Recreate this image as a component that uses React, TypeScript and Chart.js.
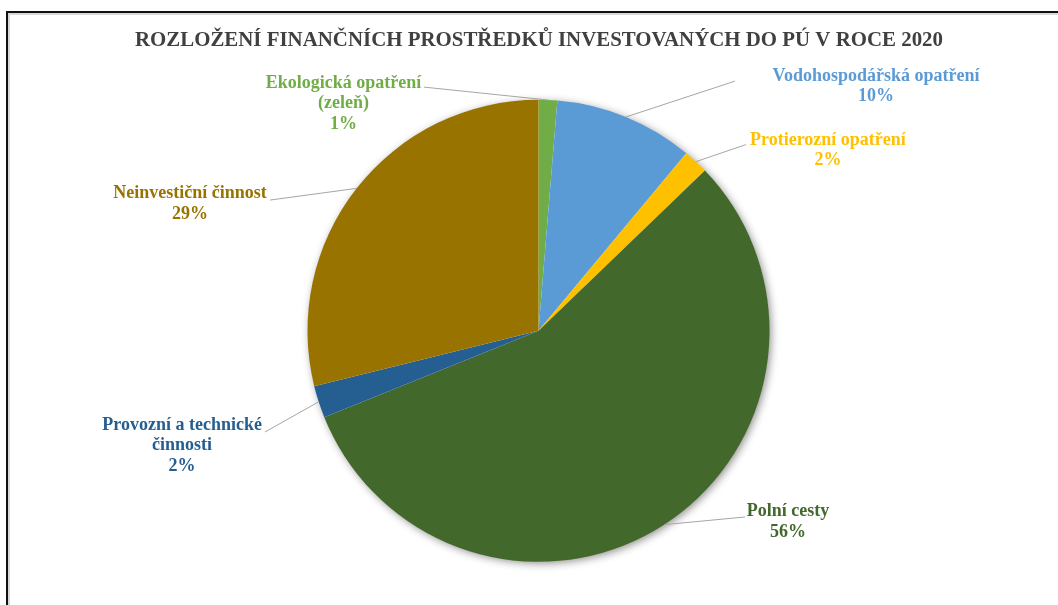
import React, { useEffect, useRef } from "react";
import { Chart, registerables } from "chart.js";

Chart.register(...registerables);

const titleText = "ROZLOŽENÍ FINANČNÍCH PROSTŘEDKŮ INVESTOVANÝCH DO PÚ V ROCE 2020";

const categories = [
  "Ekologická opatření (zeleň)",
  "Vodohospodářská opatření",
  "Protierozní opatření",
  "Polní cesty",
  "Provozní a technické činnosti",
  "Neinvestiční činnost",
];

const labelLines = [
  ["Ekologická opatření", "(zeleň)"],
  ["Vodohospodářská opatření"],
  ["Protierozní opatření"],
  ["Polní cesty"],
  ["Provozní a technické", "činnosti"],
  ["Neinvestiční činnost"],
];

const values = [1.3, 9.75, 1.75, 56.1, 2.25, 28.85];

const colors = ["#70AD47", "#5B9BD5", "#FFC000", "#43682B", "#255E91", "#997300"];

// label placement relative to pie centre, in units of the pie radius
const labelLayout = [
  { cx: -0.844, cy: -0.984, lx: -0.496, ly: -1.055 },
  { cx: 1.461, cy: -1.058, lx: 0.851, ly: -1.081 },
  { cx: 1.253, cy: -0.781, lx: 0.898, ly: -0.806 },
  { cx: 1.08, cy: 0.827, lx: 0.894, ly: 0.806 },
  { cx: -1.543, cy: 0.498, lx: -1.184, ly: 0.438 },
  { cx: -1.509, cy: -0.549, lx: -1.162, ly: -0.566 },
];

const decorPlugin = {
  id: "decor",
  beforeDraw(chart: any) {
    const ctx = chart.ctx;
    ctx.save();
    ctx.fillStyle = "#ffffff";
    ctx.fillRect(0, 0, chart.width, chart.height);
    // frame
    ctx.strokeStyle = "#d9d9d9";
    ctx.lineWidth = 2;
    ctx.beginPath();
    ctx.moveTo(9, chart.height + 5);
    ctx.lineTo(9, 14);
    ctx.lineTo(chart.width + 5, 14);
    ctx.stroke();
    ctx.strokeStyle = "#111111";
    ctx.lineWidth = 2;
    ctx.beginPath();
    ctx.moveTo(7, chart.height + 5);
    ctx.lineTo(7, 12);
    ctx.lineTo(chart.width + 5, 12);
    ctx.stroke();
    // title
    ctx.font = "bold 21px 'Liberation Serif', 'Times New Roman', serif";
    const w = ctx.measureText(titleText).width;
    const target = 808;
    const sx = target / w;
    ctx.translate(539, 45.5);
    ctx.scale(sx, 1);
    ctx.fillStyle = "#404040";
    ctx.textAlign = "center";
    ctx.textBaseline = "alphabetic";
    ctx.fillText(titleText, 0, 0);
    ctx.restore();
  },
  beforeDatasetsDraw(chart: any) {
    const ctx = chart.ctx;
    const arc = chart.getDatasetMeta(0).data[0];
    if (!arc) return;
    const { x, y, outerRadius } = arc.getProps(["x", "y", "outerRadius"], true);
    ctx.save();
    ctx.shadowColor = "rgba(0,0,0,0.45)";
    ctx.shadowBlur = 8;
    ctx.shadowOffsetX = 2;
    ctx.shadowOffsetY = 2;
    ctx.beginPath();
    ctx.arc(x, y, outerRadius - 0.5, 0, Math.PI * 2);
    ctx.fillStyle = "#ffffff";
    ctx.fill();
    ctx.restore();
  },
  afterDatasetsDraw(chart: any) {
    const ctx = chart.ctx;
    const meta = chart.getDatasetMeta(0);
    const data = chart.data.datasets[0].data as number[];
    const total = data.reduce((a: number, b: number) => a + b, 0);
    ctx.save();
    meta.data.forEach((el: any, i: number) => {
      const { x, y, startAngle, endAngle, outerRadius } = el.getProps(
        ["x", "y", "startAngle", "endAngle", "outerRadius"],
        true
      );
      const r = outerRadius;
      const mid = (startAngle + endAngle) / 2;
      const ex = x + r * Math.cos(mid);
      const ey = y + r * Math.sin(mid);
      const lay = labelLayout[i];
      // leader line
      ctx.strokeStyle = "#a6a6a6";
      ctx.lineWidth = 1;
      ctx.beginPath();
      ctx.moveTo(x + lay.lx * r, y + lay.ly * r);
      ctx.lineTo(ex, ey);
      ctx.stroke();
      // label text
      const lines = [...labelLines[i], Math.round((data[i] / total) * 100) + "%"];
      const lh = 20.5;
      const cx = x + lay.cx * r;
      const cy = y + lay.cy * r;
      ctx.font = "bold 18px 'Liberation Serif', 'Times New Roman', serif";
      ctx.fillStyle = colors[i];
      ctx.textAlign = "center";
      ctx.textBaseline = "middle";
      lines.forEach((t, k) => {
        ctx.fillText(t, cx, cy + (k - (lines.length - 1) / 2) * lh);
      });
    });
    ctx.restore();
  },
};

export default function App() {
  const ref = useRef<HTMLCanvasElement | null>(null);
  useEffect(() => {
    if (!ref.current) return;
    const chart = new Chart(ref.current, {
      type: "pie",
      data: {
        labels: categories,
        datasets: [
          {
            data: values,
            backgroundColor: colors,
            borderWidth: 0,
            hoverOffset: 0,
            offset: 0,
          },
        ],
      },
      options: {
        responsive: false,
        animation: false,
        layout: { padding: { left: 307.5, right: 288.5, top: 99.8, bottom: 43.2 } },
        plugins: {
          legend: { display: false },
          tooltip: { enabled: false },
          title: { display: false },
        },
      },
      plugins: [decorPlugin],
    });
    return () => chart.destroy();
  }, []);
  return (
    <div style={{ position: "absolute", left: 0, top: 0, width: 1058, height: 605, background: "#fff" }}>
      <canvas ref={ref} width={1058} height={605} style={{ display: "block" }} />
    </div>
  );
}
